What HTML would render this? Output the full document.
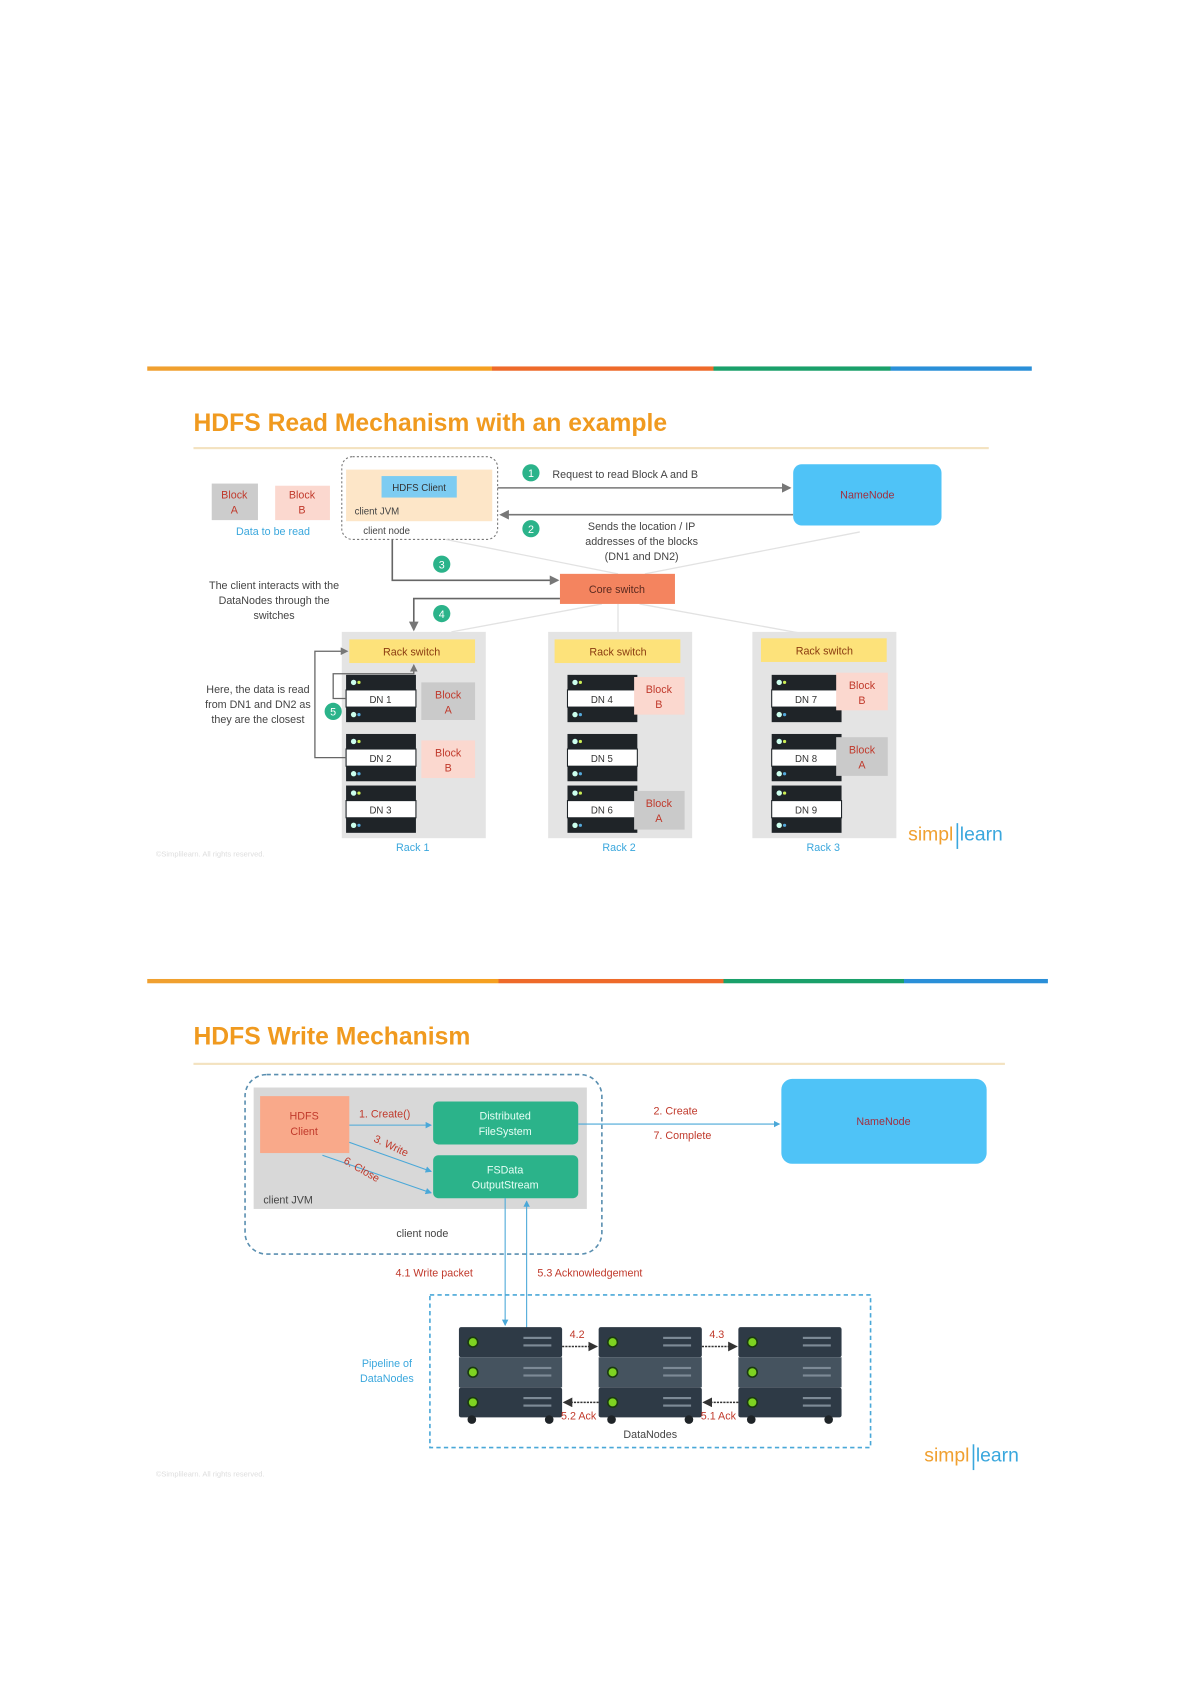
<!DOCTYPE html>
<html><head><meta charset="utf-8"><style>
html,body{margin:0;padding:0;background:#fff;width:1193px;height:1685px;overflow:hidden}
svg{display:block}
text{font-family:"Liberation Sans",sans-serif}
</style></head><body>
<svg width="1193" height="1685" viewBox="0 0 1110 1568" preserveAspectRatio="none" xmlns="http://www.w3.org/2000/svg">
<defs>
<linearGradient id="bar" x1="0" x2="1">
<stop offset="0" stop-color="#f0a030"/><stop offset="0.39" stop-color="#f5a020"/>
<stop offset="0.39" stop-color="#ee6a2a"/><stop offset="0.64" stop-color="#ee6a2a"/>
<stop offset="0.64" stop-color="#1aa06a"/><stop offset="0.84" stop-color="#1aa06a"/>
<stop offset="0.84" stop-color="#2a8fd8"/><stop offset="1" stop-color="#2a8fd8"/>
</linearGradient>
<marker id="ah" markerWidth="6" markerHeight="6" refX="5" refY="3" orient="auto"><path d="M0,0 L6,3 L0,6z" fill="#777"/></marker>
<marker id="ab" markerWidth="6" markerHeight="6" refX="5" refY="3" orient="auto"><path d="M0,0 L6,3 L0,6z" fill="#4aa8d8"/></marker>
<marker id="ak" markerWidth="6" markerHeight="6" refX="5" refY="3" orient="auto"><path d="M0,0 L6,3 L0,6z" fill="#333"/></marker>
<g id="srv">
<rect x="0" y="0" width="65" height="44" fill="#1f2428"/>
<rect x="0" y="14" width="65" height="16" fill="#fff" stroke="#1f2428" stroke-width="1"/>
<circle cx="7" cy="7" r="2.5" fill="#cfe"/><circle cx="12" cy="7" r="1.5" fill="#ce5"/>
<circle cx="7" cy="37" r="2.5" fill="#cfe"/><circle cx="12" cy="37" r="1.5" fill="#5ad"/>
</g>
<g id="big">
<rect x="0" y="0" width="96" height="28" rx="2" fill="#2e3a46"/>
<rect x="0" y="28" width="96" height="28" fill="#45535f"/>
<rect x="0" y="56" width="96" height="28" rx="2" fill="#2e3a46"/>
<circle cx="13" cy="14" r="4.5" fill="#7ed321" stroke="#1a3a10" stroke-width="1.5"/>
<circle cx="13" cy="42" r="4.5" fill="#7ed321" stroke="#1a3a10" stroke-width="1.5"/>
<circle cx="13" cy="70" r="4.5" fill="#7ed321" stroke="#1a3a10" stroke-width="1.5"/>
<g fill="#7d8a96"><rect x="60" y="9" width="26" height="2"/><rect x="60" y="16" width="26" height="2"/><rect x="60" y="37" width="26" height="2"/><rect x="60" y="44" width="26" height="2"/><rect x="60" y="65" width="26" height="2"/><rect x="60" y="72" width="26" height="2"/></g>
<circle cx="12" cy="86" r="4" fill="#1f2428"/><circle cx="84" cy="86" r="4" fill="#1f2428"/>
</g>
</defs>

<!-- READ SLIDE -->
<rect x="137" y="341" width="823" height="4" fill="url(#bar)"/>
<text x="180" y="401" font-size="23" font-weight="bold" fill="#f09a1f">HDFS Read Mechanism with an example</text>
<rect x="180" y="416" width="740" height="2" fill="#f3e2c0"/>

<rect x="197" y="450" width="43" height="34" fill="#ccc"/>
<text x="218" y="464" font-size="10" fill="#c0392b" text-anchor="middle">Block</text><text x="218" y="478" font-size="10" fill="#c0392b" text-anchor="middle">A</text>
<rect x="256" y="452" width="51" height="32" fill="#fbd8cf"/>
<text x="281" y="464" font-size="10" fill="#c0392b" text-anchor="middle">Block</text><text x="281" y="478" font-size="10" fill="#c0392b" text-anchor="middle">B</text>
<text x="254" y="498" font-size="10" fill="#3aa7dd" text-anchor="middle">Data to be read</text>

<rect x="318" y="425" width="145" height="77" rx="10" fill="none" stroke="#777" stroke-dasharray="2,2"/>
<rect x="322" y="437" width="136" height="48" fill="#fde6c8"/>
<rect x="355" y="443" width="70" height="20" fill="#7dccf2"/>
<text x="390" y="457" font-size="9" fill="#333" text-anchor="middle">HDFS Client</text>
<text x="330" y="479" font-size="9" fill="#444">client JVM</text>
<text x="338" y="497" font-size="9" fill="#444">client node</text>

<line x1="463" y1="454" x2="735" y2="454" stroke="#777" stroke-width="1.5" marker-end="url(#ah)"/>
<line x1="738" y1="479" x2="466" y2="479" stroke="#777" stroke-width="1.5" marker-end="url(#ah)"/>
<circle cx="494" cy="440" r="8" fill="#2bb38a"/><text x="494" y="444" font-size="10" fill="#fff" text-anchor="middle">1</text>
<circle cx="494" cy="492" r="8" fill="#2bb38a"/><text x="494" y="496" font-size="10" fill="#fff" text-anchor="middle">2</text>
<text x="514" y="445" font-size="10" fill="#444">Request to read Block A and B</text>
<text x="597" y="493" font-size="10" fill="#444" text-anchor="middle">Sends the location / IP</text>
<text x="597" y="507" font-size="10" fill="#444" text-anchor="middle">addresses of the blocks</text>
<text x="597" y="521" font-size="10" fill="#444" text-anchor="middle">(DN1 and DN2)</text>
<rect x="738" y="432" width="138" height="57" rx="8" fill="#4fc3f7"/>
<text x="807" y="464" font-size="10" fill="#a03040" text-anchor="middle">NameNode</text>

<g stroke="#e2e2e2" stroke-width="1.2" fill="none">
<line x1="415" y1="502" x2="575" y2="534"/><line x1="800" y1="495" x2="600" y2="534"/>
<line x1="560" y1="562" x2="420" y2="588"/><line x1="575" y1="562" x2="575" y2="588"/><line x1="595" y1="562" x2="760" y2="592"/>
</g>
<polyline points="365,502 365,540 519,540" fill="none" stroke="#666" stroke-width="1.5" marker-end="url(#ah)"/>
<polyline points="521,557 385,557 385,586" fill="none" stroke="#666" stroke-width="1.5" marker-end="url(#ah)"/>
<circle cx="411" cy="525" r="8" fill="#2bb38a"/><text x="411" y="529" font-size="10" fill="#fff" text-anchor="middle">3</text>
<circle cx="411" cy="571" r="8" fill="#2bb38a"/><text x="411" y="575" font-size="10" fill="#fff" text-anchor="middle">4</text>
<rect x="521" y="534" width="107" height="28" fill="#f4845f"/>
<text x="574" y="552" font-size="10" fill="#5a2a20" text-anchor="middle">Core switch</text>
<text x="255" y="548" font-size="10" fill="#444" text-anchor="middle">The client interacts with the</text>
<text x="255" y="562" font-size="10" fill="#444" text-anchor="middle">DataNodes through the</text>
<text x="255" y="576" font-size="10" fill="#444" text-anchor="middle">switches</text>

<!-- racks -->
<rect x="318" y="588" width="134" height="192" fill="#e4e4e4"/>
<rect x="510" y="588" width="134" height="192" fill="#e4e4e4"/>
<rect x="700" y="588" width="134" height="192" fill="#e4e4e4"/>
<rect x="325" y="595" width="117" height="22" fill="#fde27a"/><text x="383" y="610" font-size="10" fill="#8a3b10" text-anchor="middle">Rack switch</text>
<rect x="516" y="595" width="117" height="22" fill="#fde27a"/><text x="575" y="610" font-size="10" fill="#8a3b10" text-anchor="middle">Rack switch</text>
<rect x="708" y="594" width="117" height="22" fill="#fde27a"/><text x="767" y="609" font-size="10" fill="#8a3b10" text-anchor="middle">Rack switch</text>

<use href="#srv" x="322" y="628"/><text x="354" y="654" font-size="9" fill="#333" text-anchor="middle">DN 1</text>
<use href="#srv" x="322" y="683"/><text x="354" y="709" font-size="9" fill="#333" text-anchor="middle">DN 2</text>
<use href="#srv" x="322" y="731"/><text x="354" y="757" font-size="9" fill="#333" text-anchor="middle">DN 3</text>
<use href="#srv" x="528" y="628"/><text x="560" y="654" font-size="9" fill="#333" text-anchor="middle">DN 4</text>
<use href="#srv" x="528" y="683"/><text x="560" y="709" font-size="9" fill="#333" text-anchor="middle">DN 5</text>
<use href="#srv" x="528" y="731"/><text x="560" y="757" font-size="9" fill="#333" text-anchor="middle">DN 6</text>
<use href="#srv" x="718" y="628"/><text x="750" y="654" font-size="9" fill="#333" text-anchor="middle">DN 7</text>
<use href="#srv" x="718" y="683"/><text x="750" y="709" font-size="9" fill="#333" text-anchor="middle">DN 8</text>
<use href="#srv" x="718" y="731"/><text x="750" y="757" font-size="9" fill="#333" text-anchor="middle">DN 9</text>

<g font-size="10" fill="#c0392b" text-anchor="middle">
<rect x="392" y="635" width="50" height="35" fill="#cacaca"/><text x="417" y="650">Block</text><text x="417" y="664">A</text>
<rect x="392" y="689" width="50" height="35" fill="#fbd8cf"/><text x="417" y="704">Block</text><text x="417" y="718">B</text>
<rect x="590" y="630" width="47" height="35" fill="#fbd8cf"/><text x="613" y="645">Block</text><text x="613" y="659">B</text>
<rect x="590" y="736" width="47" height="36" fill="#cacaca"/><text x="613" y="751">Block</text><text x="613" y="765">A</text>
<rect x="778" y="626" width="48" height="35" fill="#fbd8cf"/><text x="802" y="641">Block</text><text x="802" y="655">B</text>
<rect x="778" y="686" width="48" height="36" fill="#cacaca"/><text x="802" y="701">Block</text><text x="802" y="715">A</text>
</g>
<polyline points="322,705 293,705 293,606 323,606" fill="none" stroke="#666" stroke-width="1.2" marker-end="url(#ah)"/>
<polyline points="322,650 310,650 310,627 385,627 385,619" fill="none" stroke="#666" stroke-width="1.2" marker-end="url(#ah)"/>
<circle cx="310" cy="662" r="8" fill="#2bb38a"/><text x="310" y="666" font-size="10" fill="#fff" text-anchor="middle">5</text>
<text x="240" y="645" font-size="10" fill="#444" text-anchor="middle">Here, the data is read</text>
<text x="240" y="659" font-size="10" fill="#444" text-anchor="middle">from DN1 and DN2 as</text>
<text x="240" y="673" font-size="10" fill="#444" text-anchor="middle">they are the closest</text>
<text x="384" y="792" font-size="10" fill="#3aa7dd" text-anchor="middle">Rack 1</text>
<text x="576" y="792" font-size="10" fill="#3aa7dd" text-anchor="middle">Rack 2</text>
<text x="766" y="792" font-size="10" fill="#3aa7dd" text-anchor="middle">Rack 3</text>
<text x="845" y="782" font-size="18" fill="#f0a030">simpl</text><rect x="890" y="766" width="1.5" height="24" fill="#3aa7dd"/><text x="893" y="782" font-size="18" fill="#3aa7dd">learn</text>
<text x="145" y="797" font-size="7" fill="#ddd">©Simplilearn. All rights reserved.</text>

<!-- WRITE SLIDE -->
<rect x="137" y="911" width="838" height="4" fill="url(#bar)"/>
<text x="180" y="972" font-size="23" font-weight="bold" fill="#f09a1f">HDFS Write Mechanism</text>
<rect x="180" y="989" width="755" height="2" fill="#f3e2c0"/>

<rect x="228" y="1000" width="332" height="167" rx="20" fill="none" stroke="#5a8fb0" stroke-width="1.5" stroke-dasharray="4,3"/>
<rect x="236" y="1012" width="310" height="113" fill="#d8d8d8"/>
<rect x="242" y="1020" width="83" height="53" fill="#f9a98a"/>
<text x="283" y="1042" font-size="10" fill="#c0392b" text-anchor="middle">HDFS</text><text x="283" y="1056" font-size="10" fill="#c0392b" text-anchor="middle">Client</text>
<rect x="403" y="1025" width="135" height="40" rx="5" fill="#2bb38a"/>
<text x="470" y="1042" font-size="10" fill="#e8fff6" text-anchor="middle">Distributed</text><text x="470" y="1056" font-size="10" fill="#e8fff6" text-anchor="middle">FileSystem</text>
<rect x="403" y="1075" width="135" height="40" rx="5" fill="#2bb38a"/>
<text x="470" y="1092" font-size="10" fill="#e8fff6" text-anchor="middle">FSData</text><text x="470" y="1106" font-size="10" fill="#e8fff6" text-anchor="middle">OutputStream</text>
<text x="245" y="1120" font-size="10" fill="#444">client JVM</text>
<text x="393" y="1151" font-size="10" fill="#444" text-anchor="middle">client node</text>
<line x1="325" y1="1047" x2="401" y2="1047" stroke="#4aa8d8" stroke-width="1" marker-end="url(#ab)"/>
<line x1="325" y1="1063" x2="401" y2="1090" stroke="#4aa8d8" stroke-width="1" marker-end="url(#ab)"/>
<line x1="300" y1="1075" x2="401" y2="1110" stroke="#4aa8d8" stroke-width="1" marker-end="url(#ab)"/>
<text x="334" y="1040" font-size="10" fill="#c0392b">1. Create()</text>
<text x="347" y="1062" font-size="10" fill="#c0392b" transform="rotate(25 347 1062)">3. Write</text>
<text x="319" y="1082" font-size="10" fill="#c0392b" transform="rotate(30 319 1082)">6. Close</text>
<line x1="538" y1="1046" x2="725" y2="1046" stroke="#4aa8d8" stroke-width="1" marker-end="url(#ab)"/>
<text x="608" y="1037" font-size="10" fill="#c0392b">2. Create</text>
<text x="608" y="1060" font-size="10" fill="#c0392b">7. Complete</text>
<rect x="727" y="1004" width="191" height="79" rx="10" fill="#4fc3f7"/>
<text x="822" y="1047" font-size="10" fill="#a03040" text-anchor="middle">NameNode</text>

<line x1="470" y1="1115" x2="470" y2="1233" stroke="#4aa8d8" stroke-width="1" marker-end="url(#ab)"/>
<line x1="490" y1="1237" x2="490" y2="1118" stroke="#4aa8d8" stroke-width="1" marker-end="url(#ab)"/>
<text x="368" y="1188" font-size="10" fill="#c0392b">4.1  Write packet</text>
<text x="500" y="1188" font-size="10" fill="#c0392b">5.3  Acknowledgement</text>

<rect x="400" y="1205" width="410" height="142" fill="none" stroke="#4aa8d8" stroke-width="1.5" stroke-dasharray="4,3"/>
<text x="360" y="1272" font-size="10" fill="#3aa7dd" text-anchor="middle">Pipeline of</text>
<text x="360" y="1286" font-size="10" fill="#3aa7dd" text-anchor="middle">DataNodes</text>
<use href="#big" x="427" y="1235"/><use href="#big" x="557" y="1235"/><use href="#big" x="687" y="1235"/>
<line x1="523" y1="1253" x2="555" y2="1253" stroke="#333" stroke-width="1.5" stroke-dasharray="2,1" marker-end="url(#ak)"/>
<line x1="653" y1="1253" x2="685" y2="1253" stroke="#333" stroke-width="1.5" stroke-dasharray="2,1" marker-end="url(#ak)"/>
<line x1="557" y1="1305" x2="525" y2="1305" stroke="#333" stroke-width="1.5" stroke-dasharray="2,1" marker-end="url(#ak)"/>
<line x1="687" y1="1305" x2="655" y2="1305" stroke="#333" stroke-width="1.5" stroke-dasharray="2,1" marker-end="url(#ak)"/>
<text x="530" y="1245" font-size="10" fill="#c0392b">4.2</text>
<text x="660" y="1245" font-size="10" fill="#c0392b">4.3</text>
<text x="522" y="1321" font-size="10" fill="#c0392b">5.2 Ack</text>
<text x="652" y="1321" font-size="10" fill="#c0392b">5.1  Ack</text>
<text x="605" y="1338" font-size="10" fill="#444" text-anchor="middle">DataNodes</text>
<text x="860" y="1360" font-size="18" fill="#f0a030">simpl</text><rect x="905" y="1344" width="1.5" height="24" fill="#3aa7dd"/><text x="908" y="1360" font-size="18" fill="#3aa7dd">learn</text>
<text x="145" y="1374" font-size="7" fill="#ddd">©Simplilearn. All rights reserved.</text>
</svg>
</body></html>
